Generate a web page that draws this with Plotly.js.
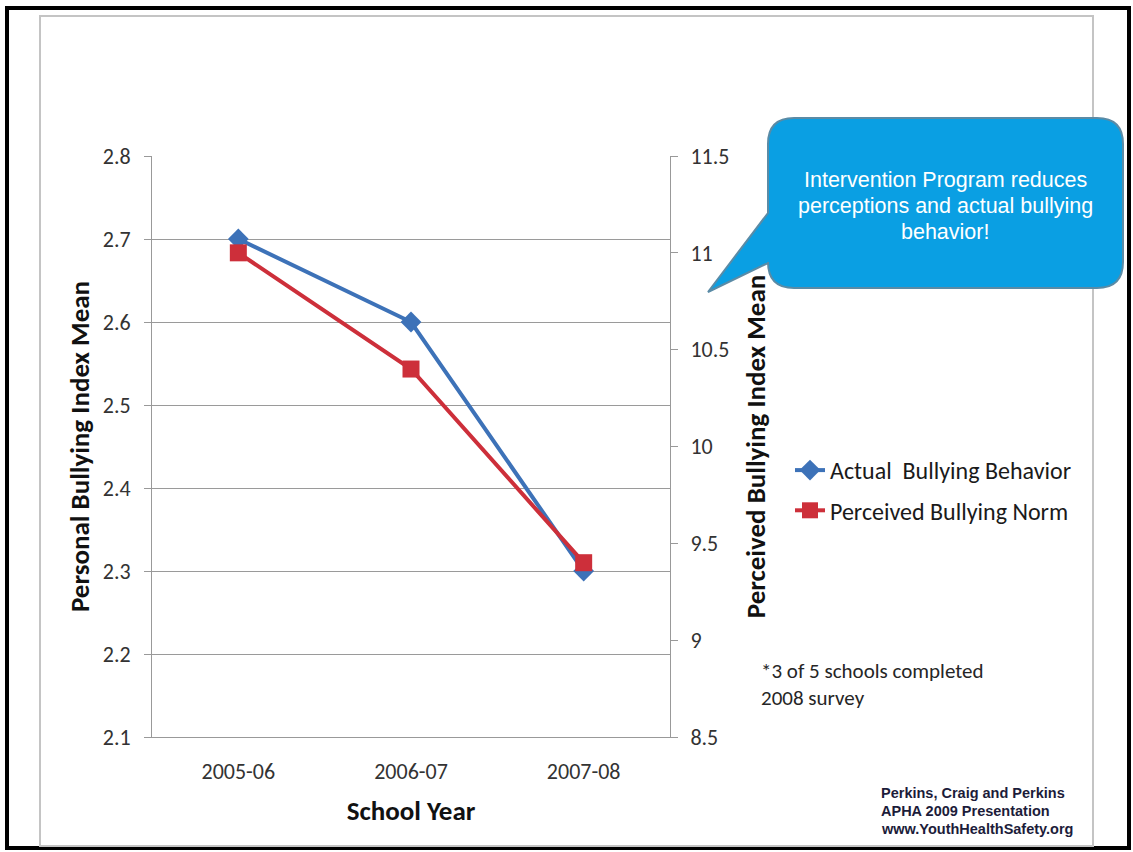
<!DOCTYPE html>
<html>
<head>
<meta charset="utf-8">
<script src="https://cdn.plot.ly/plotly-3.0.1.min.js"></script>
<style>
  html, body { margin: 0; padding: 0; background: #ffffff; }
  #chart { width: 1133px; height: 852px; }
</style>
</head>
<body>
<div id="chart"></div>
<script>
// School years on the category axis
const schoolYears = ['2005-06', '2006-07', '2007-08'];

// Personal bullying index mean (left axis)
const actualBehavior = [2.7, 2.6, 2.3];

// Perceived bullying index mean (right axis)
const perceivedNorm = [11.0, 10.4, 9.4];

// Tick values for both value axes
const leftTicks = [2.1, 2.2, 2.3, 2.4, 2.5, 2.6, 2.7, 2.8];
const rightTicks = [8.5, 9, 9.5, 10, 10.5, 11, 11.5];

const calloutLines = [
  'Intervention Program reduces',
  'perceptions and actual bullying',
  'behavior!'
];
const noteLines = ['*3 of 5 schools completed', '2008 survey'];
const creditLines = ['Perkins, Craig and Perkins', 'APHA 2009 Presentation', 'www.YouthHealthSafety.org'];

// Plot area geometry in page pixels
const W = 1133, H = 852;
const PL = 152, PR = 670, PT = 156, PB = 737;
const fx = px => (px - PL) / (PR - PL);
const fy = py => (PB - py) / (PB - PT);

const bodyFont = 'Carlito, Lato, "Open Sans", sans-serif';
const arialFont = '"Liberation Sans", Arial, sans-serif';

// Speech-bubble outline with a tail pointing at the chart
function bubblePath() {
  const L = 768, R = 1123, T = 118, B = 288, r = 26;
  const tip = [708, 292], tailTop = 213, tailBot = 263;
  const P = (x, y) => fx(x).toFixed(5) + ',' + fy(y).toFixed(5);
  return 'M' + P(L + r, T) +
    ' L' + P(R - r, T) +
    ' Q' + P(R, T) + ' ' + P(R, T + r) +
    ' L' + P(R, B - r) +
    ' Q' + P(R, B) + ' ' + P(R - r, B) +
    ' L' + P(L + r, B) +
    ' Q' + P(L, B) + ' ' + P(L, B - r) +
    ' L' + P(L, tailBot) +
    ' L' + P(tip[0], tip[1]) +
    ' L' + P(L, tailTop) +
    ' L' + P(L, T + r) +
    ' Q' + P(L, T) + ' ' + P(L + r, T) + ' Z';
}

const traces = [
  {
    x: schoolYears, y: actualBehavior, name: 'Actual\u00a0 Bullying Behavior',
    type: 'scatter', mode: 'lines+markers', yaxis: 'y', legendgroup: 'a',
    line: { color: '#3D72B8', width: 4 },
    marker: { symbol: 'diamond', size: 16, color: '#3D72B8' }
  },
  {
    x: schoolYears, y: perceivedNorm, name: 'Perceived Bullying Norm',
    type: 'scatter', mode: 'lines+markers', yaxis: 'y2', legendgroup: 'b',
    line: { color: '#CD2F3A', width: 4 },
    marker: { symbol: 'square', size: 17, color: '#CD2F3A' }
  }
];

const annotations = [];
calloutLines.forEach((t, i) => annotations.push({
  xref: 'paper', yref: 'paper', x: fx(945), y: fy(180 + i * 26),
  xanchor: 'center', yanchor: 'middle', showarrow: false, text: t,
  font: { family: arialFont, size: 21.5, color: '#ffffff' }
}));
noteLines.forEach((t, i) => annotations.push({
  xref: 'paper', yref: 'paper', x: fx(759), y: fy(671 + i * 27),
  xanchor: 'left', yanchor: 'middle', showarrow: false, text: t,
  font: { family: bodyFont, size: 21, color: '#262626' }
}));
creditLines.forEach((t, i) => annotations.push({
  xref: 'paper', yref: 'paper', x: fx(879), y: fy(793 + i * 18),
  xanchor: 'left', yanchor: 'middle', showarrow: false, text: '<b>' + t + '</b>',
  font: { family: arialFont, size: 14.5, color: '#1c1c3a' }
}));

const shapes = [
  // outer frame
  { type: 'rect', xref: 'paper', yref: 'paper', x0: fx(7), x1: fx(1129), y0: fy(8), y1: fy(848),
    line: { color: '#000000', width: 4 }, fillcolor: 'rgba(0,0,0,0)', layer: 'below' },
  // chart area border
  { type: 'rect', xref: 'paper', yref: 'paper', x0: fx(40), x1: fx(1093), y0: fy(16), y1: fy(846),
    line: { color: '#c4c4c4', width: 2 }, fillcolor: 'rgba(0,0,0,0)', layer: 'below' },
  // callout bubble
  { type: 'path', xref: 'paper', yref: 'paper', path: bubblePath(),
    fillcolor: '#0A9FE3', line: { color: '#5a8ba6', width: 2 }, layer: 'above' }
];

const axisTick = { family: bodyFont, size: 22, color: '#333333' };

const layout = {
  width: W, height: H,
  margin: { l: PL, r: W - PR, t: PT, b: H - PB, pad: 0 },
  paper_bgcolor: '#ffffff', plot_bgcolor: '#ffffff',
  showlegend: true,
  legend: {
    x: fx(790), y: fy(448), xanchor: 'left', yanchor: 'top',
    traceorder: 'grouped', tracegroupgap: 6,
    font: { family: bodyFont, size: 24, color: '#1a1a1a' },
    bgcolor: 'rgba(0,0,0,0)', borderwidth: 0
  },
  xaxis: {
    type: 'category', range: [-0.5, 2.5], showgrid: false, zeroline: false,
    showline: true, linecolor: '#999999', linewidth: 1,
    ticks: '', tickfont: axisTick, ticklabelstandoff: 15,
    title: { text: '<b>School Year</b>', font: { family: bodyFont, size: 27, color: '#111111' }, standoff: 16 }
  },
  yaxis: {
    range: [2.1, 2.8], tickvals: leftTicks, ticktext: leftTicks.map(v => v.toFixed(1)),
    showgrid: true, gridcolor: '#9a9a9a', gridwidth: 1, zeroline: false,
    showline: true, linecolor: '#999999', linewidth: 1,
    ticks: 'outside', ticklen: 7, tickcolor: '#999999', ticklabelstandoff: 9,
    tickfont: axisTick,
    title: { text: '<b>Personal Bullying Index Mean</b>', font: { family: bodyFont, size: 27, color: '#111111' }, standoff: 5 }
  },
  yaxis2: {
    overlaying: 'y', side: 'right',
    range: [8.5, 11.5], tickvals: rightTicks, ticktext: rightTicks.map(String),
    showgrid: false, zeroline: false,
    showline: true, linecolor: '#999999', linewidth: 1,
    ticks: 'outside', ticklen: 7, tickcolor: '#999999', ticklabelstandoff: 8,
    tickfont: axisTick,
    title: { text: '<b>Perceived Bullying Index Mean</b>', font: { family: bodyFont, size: 27, color: '#111111' }, standoff: 17 }
  },
  shapes: shapes,
  annotations: annotations
};

Plotly.newPlot('chart', traces, layout, { displayModeBar: false, staticPlot: true });
</script>
</body>
</html>
